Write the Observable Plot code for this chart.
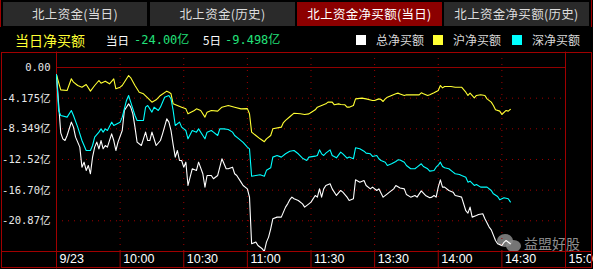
<!DOCTYPE html>
<html>
<head>
<meta charset="utf-8">
<script src="https://cdn.jsdelivr.net/npm/d3@7"></script>
<script src="https://cdn.jsdelivr.net/npm/@observablehq/plot@0.6"></script>
<style>
  html, body { margin: 0; padding: 0; background: #000; }
  #root { position: relative; width: 593px; height: 269px; overflow: hidden; background: #000;
          font-family: "Noto Sans CJK SC", "Noto Sans", sans-serif; }
  .abs { position: absolute; }
  .tab { position: absolute; top: 2px; height: 24px; line-height: 24px; text-align: center;
         font-size: 12.5px; color: #dcdcdc; background: #2a2a2a; letter-spacing: 0.3px; }
  .tab.active { background: #8c0000; color: #fff; }
  .sq { position: absolute; top: 35px; width: 10px; height: 10px; }
  .lg { position: absolute; top: 30px; height: 20px; line-height: 20px; font-size: 12px; color: #d8d8d8; }
  #chart { position: absolute; left: 0; top: 52px; }
</style>
</head>
<body>
<div id="root">
  <div id="tabs"></div>
  <div id="legend"></div>
  <div class="abs" style="left:497px;top:234px;width:16px;height:13px;border-radius:50%;background:#8a8a8a;opacity:0.85"></div>
  <div class="abs" style="left:506px;top:240px;width:15px;height:12px;border-radius:50%;background:#8a8a8a;opacity:0.85"></div>
  <div class="abs" style="left:524px;top:234px;font-size:14px;color:#8e8e8e;line-height:18px">益盟好股</div>
  <div id="chart"></div>
  <div class="abs" style="left:1px;top:52px;width:591px;height:216px;box-sizing:border-box;border:1px solid #a00000"></div>
  <div class="abs" style="left:1px;top:251px;width:591px;height:1px;background:#a00000"></div>
  <div class="abs" style="left:0px;top:0px;width:1px;height:27px;background:#a00000"></div>
  <div class="abs" style="left:591px;top:0px;width:1px;height:27px;background:#a00000"></div>
</div>
<script>
// ---- Text / categories ----
const tabNames = ["北上资金(当日)", "北上资金(历史)", "北上资金净买额(当日)", "北上资金净买额(历史)"];
const activeTab = 2;
const headline = "当日净买额";
const summaryLabels = ["当日", "5日"];
const summaryValues = ["-24.00亿", "-9.498亿"];
const seriesNames = ["总净买额", "沪净买额", "深净买额"];
const seriesColors = ["#ffffff", "#ffff33", "#00ffff"];

// ---- Axis ticks ----
const tickMinutes = [0, 30, 60, 90, 120, 150, 180, 210, 240];
const xLabels = ["9/23", "10:00", "10:30", "11:00", "11:30", "13:30", "14:00", "14:30", "15:00"];
const yTicks = [0, -4.175, -8.349, -12.52, -16.70, -20.87];
const yLabels = ["0.00", "-4.175亿", "-8.349亿", "-12.52亿", "-16.70亿", "-20.87亿"];
const yDomain = [-25.05, 0];

// ---- Series: minutes since 9:30 (trading minutes) and values (亿) ----
// 总净买额 (total)
const totMin = [0,2,3,4,5,7,8,9,11,12,13,14,15,16,17,18,19,20,21,22,23,24,26,27,28,29,31,32,34,35,36,37,38,40,41,42,43,44,45,47,49,50,52,53,54,55,56,57,58,59,60,61,62,64,66,67,69,70,71,73,74,76,77,78,80,81,83,84,85,87,88,90,91,92,94,95,97,98,99,100,101,102,104,106,108,109,110,111,112,114,116,117,119,120,122,123,124,125,126,127,129,130,132,134,135,137,138,140,141,143,145,146,148,149,151,152,154,156,157,159,160,162,164,165,167,169,170,172,174,176,177,178,179,180,181,182,183,185,187,188,190,191,193,194,195,196,198,199,201,202,204,205,207,208,210,211,212,214];
const totVal = [-1.0,-8.9,-9.71,-9.94,-9.26,-7.44,-8.12,-9.48,-10.84,-13.57,-12.89,-14.02,-13.34,-14.47,-12.21,-10.84,-10.16,-11.07,-9.94,-11.07,-10.62,-10.84,-9.03,-9.94,-11.30,-10.16,-8.58,-5.85,-4.95,-5.40,-6.31,-8.12,-10.16,-10.62,-9.71,-8.80,-9.94,-9.94,-8.80,-10.62,-9.94,-9.03,-6.99,-7.44,-8.6,-10.5,-12.21,-11.30,-12.66,-12.66,-13.57,-12.89,-16.06,-13.79,-14.02,-12.89,-14.47,-16.29,-14.70,-14.70,-15.15,-14.70,-13.57,-12.43,-13.79,-13.79,-13.57,-14.47,-14.70,-15.61,-16.06,-16.52,-17.65,-24.0,-23.77,-24.23,-24.68,-25.04,-23.77,-23.09,-21.96,-20.60,-20.37,-20.37,-19.01,-18.56,-18.0,-17.65,-17.87,-18.10,-18.56,-19.01,-18.56,-18.33,-17.42,-17.65,-16.52,-17.65,-16.52,-16.06,-15.83,-16.52,-17.42,-16.74,-16.97,-17.65,-18.10,-17.87,-15.29,-15.61,-15.38,-16.06,-16.52,-16.29,-16.74,-16.52,-17.65,-17.20,-16.97,-16.52,-16.06,-16.4,-16.52,-17.3,-17.65,-17.42,-17.65,-16.8,-17.42,-17.74,-17.65,-17.42,-17.65,-16.29,-15.29,-16.29,-16.29,-16.74,-16.97,-17.42,-17.56,-17.65,-19.5,-19.83,-19.01,-20.37,-20.15,-20.01,-19.92,-20.60,-21.73,-22.1,-23.55,-24.0,-24.23,-23.8,-23.55,-24.0];

// 沪净买额 (Shanghai)
const shMin = [0,2,5,7,8,10,12,14,16,18,20,21,23,25,27,28,30,31,34,35,37,39,41,43,45,47,49,52,53,54,55,57,59,61,62,65,66,68,70,71,73,76,78,81,84,87,90,91,92,94,96,98,99,101,102,106,107,108,110,112,115,117,119,120,122,123,125,127,128,130,131,133,134,136,137,138,140,141,144,146,149,150,152,153,154,155,156,158,160,161,162,164,165,169,171,172,173,175,176,178,180,181,182,183,186,188,191,193,194,195,197,198,200,202,203,205,206,207,209,210,212,213,214];
const shVal = [-1.0,-3.04,-3.13,-1.54,-2.0,-2.45,-2.68,-2.31,-3.22,-2.45,-1.77,-2.13,-1.86,-2.22,-1.54,-2.90,-2.68,-2.45,-1.09,-1.41,-2.45,-3.36,-3.58,-4.13,-4.72,-4.40,-3.81,-3.22,-3.36,-3.58,-4.95,-5.17,-5.40,-5.63,-6.31,-5.85,-5.63,-5.85,-6.76,-6.08,-5.85,-5.94,-5.40,-5.17,-5.40,-5.63,-5.6,-6.3,-8.8,-9.26,-9.71,-10.1,-9.71,-9.26,-8.35,-8.12,-7.5,-7.2,-6.7,-6.22,-6.3,-6.40,-6.31,-6.12,-5.76,-5.40,-5.17,-4.95,-4.72,-4.72,-5.08,-4.95,-5.04,-5.08,-5.40,-5.40,-5.17,-4.27,-4.17,-4.27,-4.49,-4.49,-4.27,-4.36,-4.63,-4.27,-4.04,-3.81,-3.58,-3.49,-3.6,-3.81,-3.72,-3.72,-3.72,-3.45,-3.58,-3.81,-3.72,-3.45,-3.13,-2.45,-2.77,-2.59,-2.59,-2.68,-2.68,-3.36,-3.81,-3.49,-4.13,-3.81,-3.72,-3.81,-4.27,-4.72,-5.17,-5.76,-5.94,-6.40,-5.85,-5.94,-5.7];

// 深净买额 (Shenzhen)
const szMin = [0,1,2,5,7,8,10,12,13,14,16,17,18,20,21,22,23,24,26,27,30,31,33,34,35,37,38,41,42,43,45,46,48,49,51,53,54,55,56,58,59,61,62,64,66,67,69,70,71,73,74,76,77,79,81,83,84,86,88,90,91,92,94,96,98,99,101,102,104,106,108,110,112,114,116,118,119,122,123,124,125,126,127,129,130,132,134,135,137,138,140,141,143,145,146,148,149,151,152,153,155,156,158,160,161,162,164,165,167,169,170,172,173,175,176,178,179,180,181,182,183,185,187,188,190,191,193,194,195,197,198,200,203,205,206,208,209,211,213,214];
const szVal = [-0.95,-5.85,-6.53,-6.76,-5.85,-6.53,-8.12,-9.94,-10.62,-11.30,-11.30,-10.62,-9.48,-8.80,-8.35,-8.80,-8.35,-8.58,-7.44,-7.89,-7.44,-6.76,-4.49,-3.81,-4.72,-6.53,-7.21,-7.21,-5.40,-5.17,-6.08,-5.40,-5.85,-5.40,-4.04,-3.81,-4.27,-5.85,-7.89,-7.44,-8.12,-8.58,-9.71,-8.58,-8.80,-8.35,-9.26,-9.71,-8.80,-8.58,-8.80,-9.26,-8.35,-8.35,-8.44,-8.80,-9.26,-9.71,-10.2,-10.84,-11.07,-14.8,-14.7,-14.6,-14.8,-14.0,-13.66,-12.2,-11.98,-12.2,-11.75,-11.4,-11.3,-11.75,-12.35,-12.66,-12.2,-12.07,-11.98,-11.21,-11.75,-11.98,-11.66,-11.21,-11.98,-12.30,-11.52,-11.75,-12.34,-12.20,-12.43,-10.93,-11.07,-11.39,-11.66,-11.75,-12.11,-11.98,-12.43,-12.66,-12.89,-13.34,-13.11,-12.79,-12.57,-12.6,-12.9,-13.34,-13.79,-13.79,-13.57,-13.11,-13.48,-13.79,-14.11,-14.02,-13.57,-13.3,-12.89,-13.48,-13.66,-13.79,-14.25,-14.47,-14.56,-14.70,-14.93,-15.61,-15.47,-16.06,-15.93,-16.29,-16.29,-16.74,-17.20,-17.56,-18.01,-17.74,-17.87,-18.3];

// ---- HTML header (tabs + legend) ----
const tabPos = [[3,144],[150,145],[297,145],[444,145]];
const tabsEl = document.getElementById("tabs");
tabNames.forEach((t, i) => {
  const d = document.createElement("div");
  d.className = "tab" + (i === activeTab ? " active" : "");
  d.style.left = tabPos[i][0] + "px";
  d.style.width = tabPos[i][1] + "px";
  d.textContent = t;
  tabsEl.appendChild(d);
});
const legendEl = document.getElementById("legend");
function addText(txt, left, color, size, font) {
  const d = document.createElement("div");
  d.className = "lg";
  d.style.left = left + "px";
  d.style.color = color;
  if (size) d.style.fontSize = size + "px";
  if (font) d.style.fontFamily = font;
  d.textContent = txt;
  legendEl.appendChild(d);
}
addText(headline, 15, "#ffff33", 14);
addText(summaryLabels[0], 106, "#ffffff", 11.5);
addText(summaryValues[0], 134, "#22e07a", 12, '"DejaVu Sans Mono", "Noto Sans CJK SC"');
addText(summaryLabels[1], 203, "#ffffff", 11.5);
addText(summaryValues[1], 225, "#22e07a", 12, '"DejaVu Sans Mono", "Noto Sans CJK SC"');
const sqLeft = [356, 433, 512];
seriesNames.forEach((n, i) => {
  const s = document.createElement("div");
  s.className = "sq";
  s.style.left = sqLeft[i] + "px";
  s.style.background = seriesColors[i];
  legendEl.appendChild(s);
  addText(n, sqLeft[i] + 20, "#d8d8d8", 12);
});

// ---- Chart ----
const toRows = (ms, vs) => ms.map((m, i) => ({m, v: vs[i]}));
const red = "#a00000";
const chart = Plot.plot({
  width: 593,
  height: 217,
  marginLeft: 56,
  marginRight: 28,
  marginTop: 15,
  marginBottom: 18,
  style: {background: "transparent", color: "#fff", fontFamily: "Liberation Sans, Arial, sans-serif", overflow: "visible"},
  x: {domain: [0, 240], axis: null},
  y: {domain: yDomain, axis: null},
  marks: [
    Plot.ruleY(yTicks.slice(1), {stroke: red, strokeDasharray: "1,5"}),
    Plot.ruleX(tickMinutes.slice(1, -1), {x: d => d, y1: yDomain[0], y2: 1.95, stroke: red, strokeDasharray: "1,5"}),
    Plot.ruleY([0], {stroke: "#900000"}),
    Plot.ruleX([0, 240], {x: d => d, y1: -27.4, y2: 2.1, stroke: red}),
    Plot.ruleX(tickMinutes, {x: d => d, y1: -27.4, y2: yDomain[0], stroke: red}),
    Plot.line(toRows(totMin, totVal), {x: "m", y: "v", stroke: seriesColors[0], strokeWidth: 1.1}),
    Plot.line(toRows(shMin, shVal), {x: "m", y: "v", stroke: seriesColors[1], strokeWidth: 1.1}),
    Plot.line(toRows(szMin, szVal), {x: "m", y: "v", stroke: seriesColors[2], strokeWidth: 1.1}),
    Plot.text(tickMinutes, {x: d => d, y: yDomain[0], text: (d, i) => xLabels[i], textAnchor: "start",
      dx: 3, dy: 7.5, fill: "#ffffff", fontSize: 12.5}),
    Plot.text(yTicks, {x: 0, y: d => d, text: (d, i) => yLabels[i], textAnchor: "end",
      dx: -6, fill: "#e8e8e8", fontSize: 10.5, fontFamily: '"DejaVu Sans Mono", "Noto Sans CJK SC", monospace'})
  ]
});
document.getElementById("chart").appendChild(chart);
</script>
</body>
</html>
